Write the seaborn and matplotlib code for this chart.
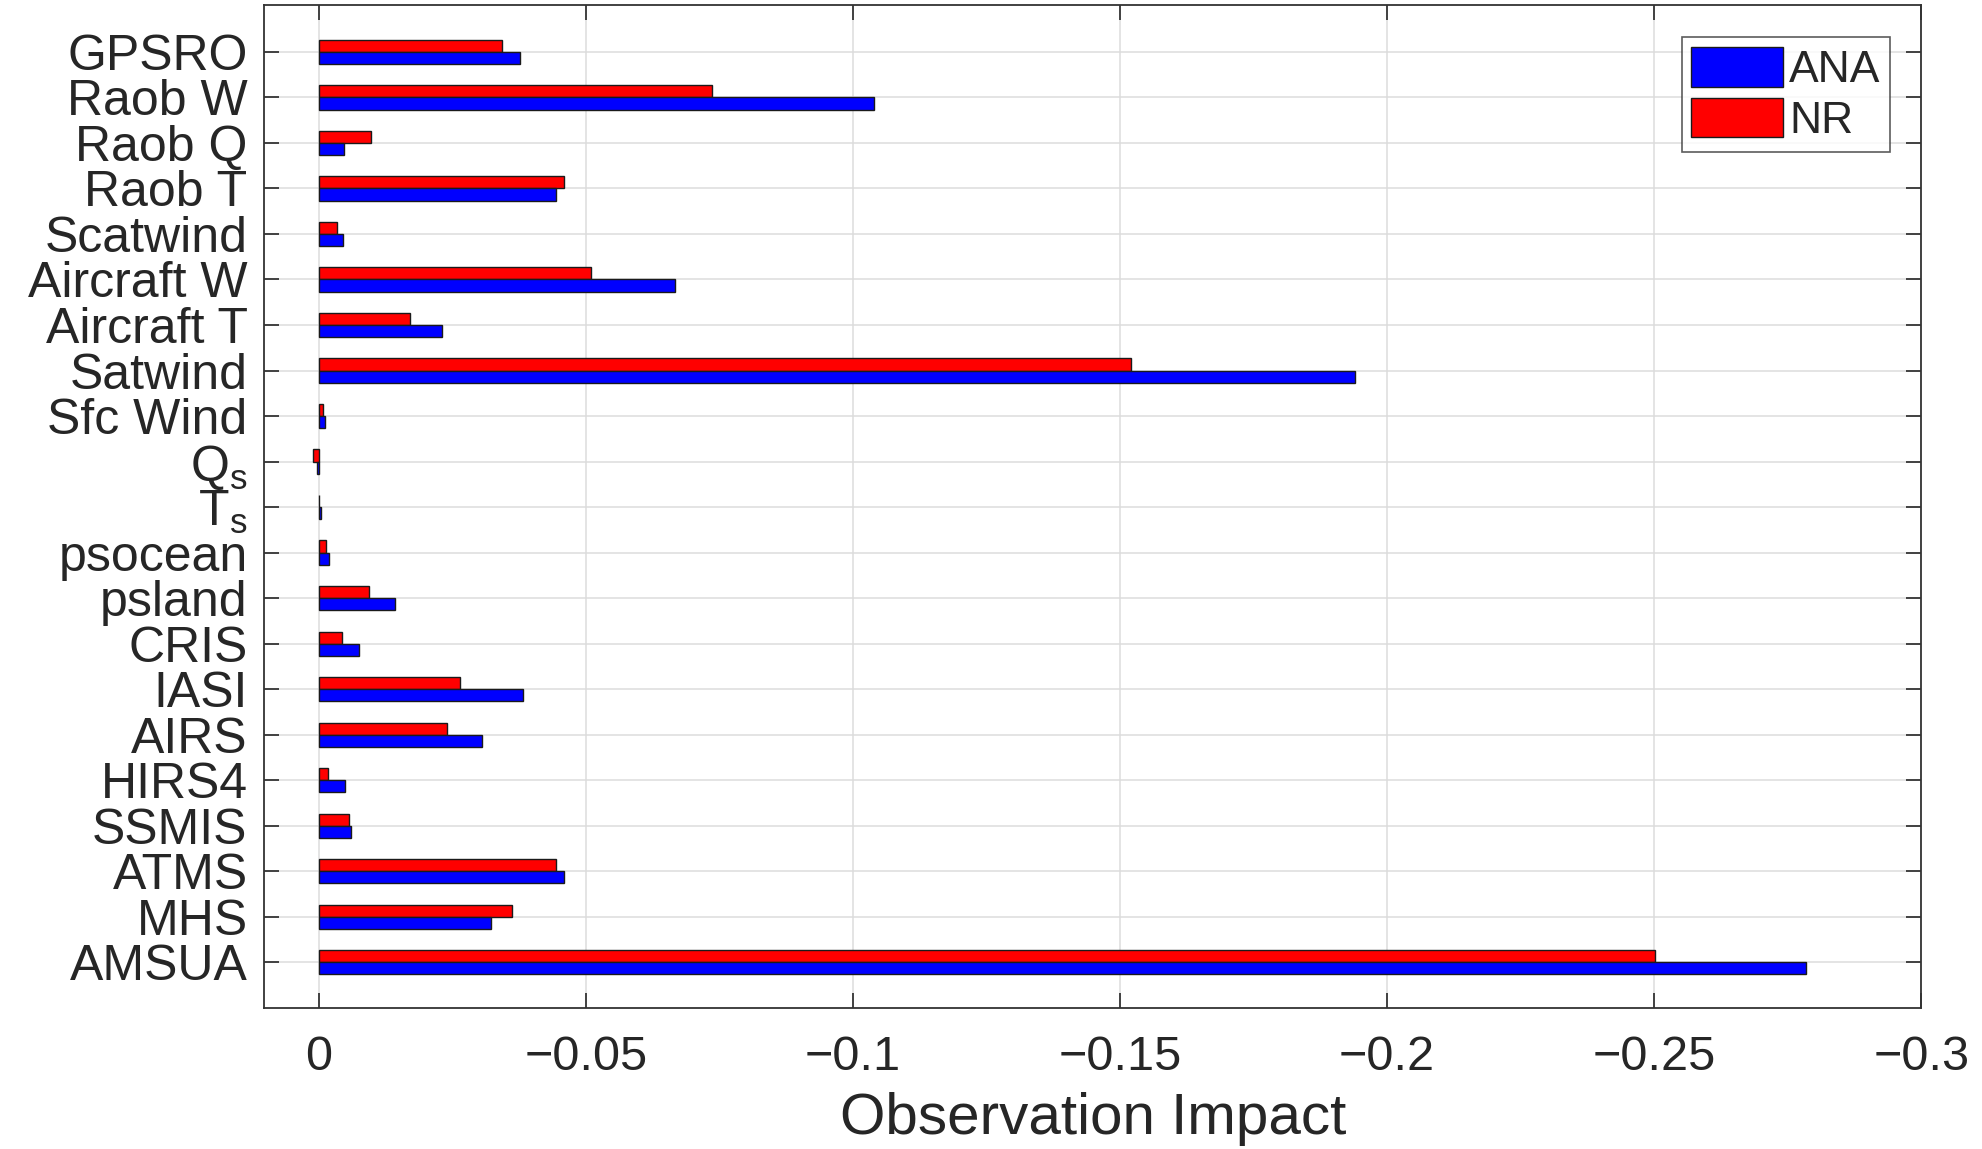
import numpy as np
import pandas as pd
import matplotlib
matplotlib.use("Agg")
import matplotlib.pyplot as plt
from matplotlib.patches import Patch
import seaborn as sns

categories = ["GPSRO", "Raob W", "Raob Q", "Raob T", "Scatwind", "Aircraft W",
              "Aircraft T", "Satwind", "Sfc Wind", "Q$_\\mathregular{s}$", "T$_\\mathregular{s}$",
              "psocean", "psland", "CRIS", "IASI", "AIRS", "HIRS4", "SSMIS",
              "ATMS", "MHS", "AMSUA"]
ana_values = [-0.0376, -0.1039, -0.0047, -0.0445, -0.0045, -0.0667, -0.0230,
              -0.1940, -0.0012, 0.0004, -0.0004, -0.0020, -0.0142, -0.0076,
              -0.0383, -0.0305, -0.0050, -0.0060, -0.0459, -0.0323, -0.2785]
nr_values = [-0.0343, -0.0736, -0.0097, -0.0459, -0.0035, -0.0509, -0.0170,
             -0.1520, -0.0008, 0.0010, -0.0001, -0.0013, -0.0095, -0.0043,
             -0.0265, -0.0241, -0.0017, -0.0056, -0.0445, -0.0362, -0.2502]
series_names = ["ANA", "NR"]
x_ticks = [0, -0.05, -0.1, -0.15, -0.2, -0.25, -0.3]
x_tick_labels = ["0", "\u22120.05", "\u22120.1", "\u22120.15", "\u22120.2", "\u22120.25", "\u22120.3"]
x_label = "Observation Impact"

colors = {"ANA": "#0000ff", "NR": "#ff0000"}
edge = "#1a1a1a"
text_col = "#262626"

sns.set_theme(style="white")
plt.rcParams["font.family"] = ["Liberation Sans", "DejaVu Sans"]
plt.rcParams["mathtext.fontset"] = "custom"
plt.rcParams["mathtext.rm"] = "Liberation Sans"

df = pd.DataFrame({
    "category": categories * 2,
    "impact": nr_values + ana_values,
    "source": ["NR"] * len(categories) + ["ANA"] * len(categories),
})

fig = plt.figure(figsize=(19.82, 11.49), dpi=100)
ax = fig.add_axes([0.1333, 0.123, 0.8361, 0.8726])

sns.barplot(data=df, y="category", x="impact", hue="source", hue_order=["NR", "ANA"],
            order=categories, palette=colors, orient="h", width=0.53,
            edgecolor=edge, linewidth=1.0, saturation=1, legend=False, ax=ax)

ax.set_xlim(0.0102, -0.3)
ax.set_ylim(len(categories) - 1 + 1.0, -1.03)
ax.set_xticks(x_ticks)
ax.set_xticklabels(x_tick_labels, fontsize=35, color=text_col,
                   family=["Liberation Sans Narrow", "Liberation Sans", "DejaVu Sans"])
ax.set_yticks(range(len(categories)))
ax.set_yticklabels(categories, fontsize=36, color=text_col)
ax.set_ylabel("")
ax.set_xlabel(x_label, fontsize=42, color=text_col, labelpad=8)

ax.set_axisbelow(True)
ax.grid(True, axis="both", color="#dcdcdc", linewidth=1.1)
ax.tick_params(axis="x", which="both", direction="in", length=11, width=1.2,
               top=True, bottom=True, pad=20, colors=text_col)
ax.tick_params(axis="y", which="both", direction="in", length=11, width=1.2,
               left=True, right=True, pad=12, colors=text_col)
for s in ax.spines.values():
    s.set_visible(True)
    s.set_color("#333333")
    s.set_linewidth(1.3)

handles = [Patch(facecolor=colors[n], edgecolor=edge, linewidth=1.0) for n in series_names]
leg = ax.legend(handles, series_names, loc="upper right",
                bbox_to_anchor=(1 - 31 / 1657, 1 - 32 / 1002.6), borderaxespad=0,
                fontsize=32, frameon=True, fancybox=False, handlelength=2.05,
                handleheight=1.0, handletextpad=0.15, labelspacing=0.15,
                borderpad=0.22)
leg.get_frame().set_edgecolor("#333333")
leg.get_frame().set_linewidth(1.2)

fig.savefig("out.png", dpi=100)
